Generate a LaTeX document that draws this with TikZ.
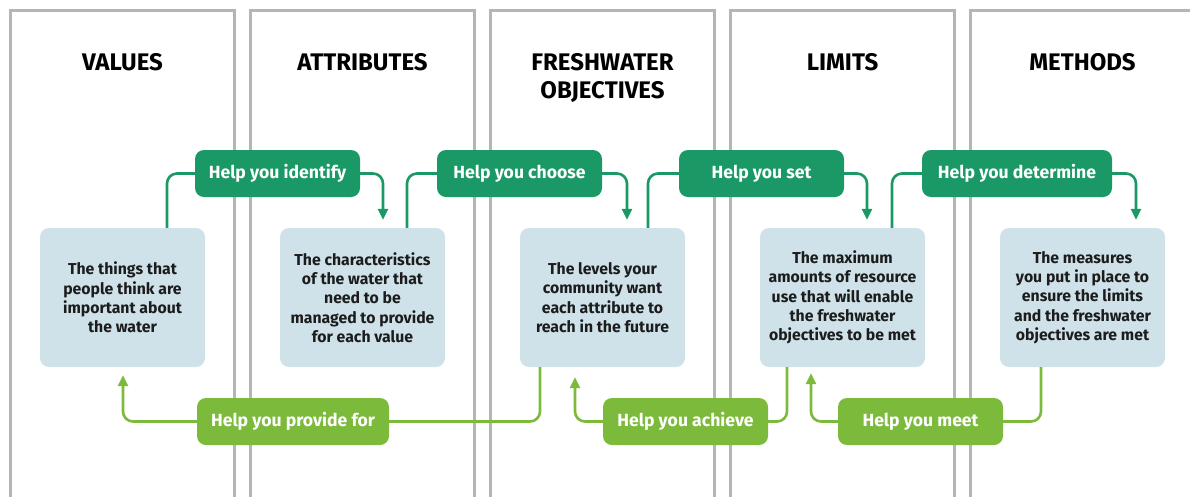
\documentclass[tikz,border=0pt]{standalone}
\usepackage{fontspec}
\setmainfont{Fira Sans}
\usetikzlibrary{arrows.meta}

\definecolor{framegray}{HTML}{B5B5B5}
\definecolor{boxblue}{HTML}{CFE2E9}
\definecolor{darkleaf}{HTML}{1A9966}
\definecolor{lightleaf}{HTML}{7CBA3C}
\definecolor{inktext}{HTML}{1C1C1C}

\begin{document}
\begin{tikzpicture}[x=1pt, y=-1pt,
    column/.style={framegray, line width=3pt},
    heading/.style={anchor=north, inner sep=0pt, align=center,
        font=\fontsize{24}{28}\selectfont\bfseries},
    infobox/.style={fill=boxblue, rounded corners=9pt, minimum width=165pt,
        minimum height=139pt, align=center, text=inktext,
        font=\fontsize{15.8}{19.3}\selectfont\bfseries},
    helpup/.style={fill=darkleaf, text=white, rounded corners=9pt,
        minimum width=165pt, minimum height=47pt,
        font=\fontsize{17.6}{20}\selectfont\bfseries},
    helpdown/.style={helpup, fill=lightleaf},
    upline/.style={darkleaf, line width=2.6pt, rounded corners=10pt},
    downline/.style={lightleaf, line width=2.6pt, rounded corners=10pt},
    headarrow/.style={-{Triangle[width=10pt,length=11pt]}}
]
    \useasboundingbox (0,0) rectangle (1190,496);

    % five open columns
    \foreach \x in {10,250,490,730,970}
        \draw[column] (\x,500) -- (\x,10) -- (\x+224,10) -- (\x+224,500);

    \node[heading] (valuestitle) at (122.5,53) {VALUES};
    \node[heading] (attributestitle) at (362.5,53) {ATTRIBUTES};
    \node[heading] (objectivestitle) at (602.5,53) {FRESHWATER\\OBJECTIVES};
    \node[heading] (limitstitle) at (842.5,53) {LIMITS};
    \node[heading] (methodstitle) at (1082.5,53) {METHODS};

    \node[infobox] (values) at (122.5,297.5)
        {The things that\\people think are\\important about\\the water};
    \node[infobox] (attributes) at (362.5,297.5)
        {The characteristics\\of the water that\\need to be\\managed to provide\\for each value};
    \node[infobox] (objectives) at (602.5,297.5)
        {The levels your\\community want\\each attribute to\\reach in the future};
    \node[infobox] (limits) at (842.5,297.5)
        {The maximum\\amounts of resource\\use that will enable\\the freshwater\\objectives to be met};
    \node[infobox] (methods) at (1082.5,297.5)
        {The measures\\you put in place to\\ensure the limits\\and the freshwater\\objectives are met};

    \node[helpup] (identify) at (277.5,173.5) {Help you identify};
    \node[helpup] (choose) at (519.5,173.5) {Help you choose};
    \node[helpup] (set) at (761.5,173.5) {Help you set};
    \node[helpup, minimum width=190pt] (determine) at (1017,173.5) {Help you determine};

    \node[helpdown, minimum width=192pt] (providefor) at (293,421.5) {Help you provide for};
    \node[helpdown] (achieve) at (685.5,421.5) {Help you achieve};
    \node[helpdown] (meet) at (920.5,421.5) {Help you meet};

    % forward path along the top
    \draw[upline] ([xshift=44.5pt]values.north) |- (identify.west);
    \draw[upline, headarrow, shorten >=8pt] (identify.east) -| ([xshift=20.5pt]attributes.north);
    \draw[upline] ([xshift=44.5pt]attributes.north) |- (choose.west);
    \draw[upline, headarrow, shorten >=8pt] (choose.east) -| ([xshift=24.5pt]objectives.north);
    \draw[upline] ([xshift=45.5pt]objectives.north) |- (set.west);
    \draw[upline, headarrow, shorten >=8pt] (set.east) -| ([xshift=24.5pt]limits.north);
    \draw[upline] ([xshift=49.5pt]limits.north) |- (determine.west);
    \draw[upline, headarrow, shorten >=8pt] (determine.east) -| ([xshift=53.5pt]methods.north);

    % return path along the bottom
    \draw[downline] ([xshift=-62.5pt]objectives.south) |- (providefor.east);
    \draw[downline, headarrow, shorten >=8pt] (providefor.west) -| ([xshift=0.5pt]values.south);
    \draw[downline] ([xshift=-55.5pt]limits.south) |- (achieve.east);
    \draw[downline, headarrow, shorten >=10pt] (achieve.west) -| ([xshift=-27.5pt]objectives.south);
    \draw[downline] ([xshift=-41.5pt]methods.south) |- (meet.east);
    \draw[downline, headarrow, shorten >=6pt] (meet.west) -| ([xshift=-31.5pt]limits.south);
\end{tikzpicture}
\end{document}
